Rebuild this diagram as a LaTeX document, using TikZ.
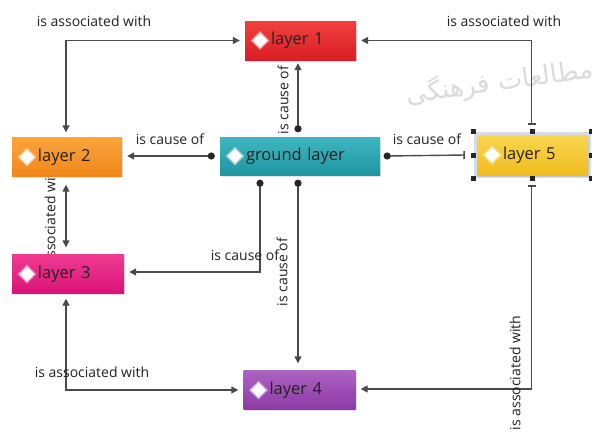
\documentclass[tikz,border=0pt]{standalone}
\usepackage{fontspec}
\setmainfont{Open Sans}
\newfontfamily\arabicfont[Script=Arabic]{DejaVu Sans}
\TeXXeTstate=1
\usetikzlibrary{arrows.meta,shadows,fit,calc}
\pgfdeclarelayer{back}
\pgfdeclarelayer{paper}
\pgfsetlayers{paper,back,main}

\definecolor{lncol}{HTML}{4A4A4A}
\definecolor{txt}{HTML}{222222}
\definecolor{redA}{HTML}{F2403F}\definecolor{redB}{HTML}{D81E24}
\definecolor{orA}{HTML}{FAA43E}\definecolor{orB}{HTML}{F2861A}
\definecolor{tlA}{HTML}{40B6BF}\definecolor{tlB}{HTML}{1E97A3}
\definecolor{ylA}{HTML}{F9D650}\definecolor{ylB}{HTML}{F1BC1E}
\definecolor{pkA}{HTML}{F03A90}\definecolor{pkB}{HTML}{D91478}
\definecolor{puA}{HTML}{AD62C4}\definecolor{puB}{HTML}{8C3AA4}
\definecolor{selfr}{HTML}{D3DEE9}

\begin{document}
\begin{tikzpicture}[x=1pt,y=-1pt,
  every node/.style={text=txt},
  lbl/.style={font=\fontsize{14}{16}\selectfont, inner sep=0pt},
  layerbox/.style={rectangle, minimum height=39pt, text width=111pt,
    inner xsep=0pt, align=left, execute at begin node=\hspace*{26pt},
    font=\fontsize{16.5}{18}\selectfont,
    drop shadow={opacity=0.22, shadow xshift=1.2pt, shadow yshift=-1.6pt},
    path picture={
      \coordinate (dm) at ([xshift=15pt]path picture bounding box.west);
      \fill[white,opacity=0.45] ([xshift=-9.5pt]dm) -- ([yshift=9.5pt]dm)
        -- ([xshift=9.5pt]dm) -- ([yshift=-9.5pt]dm) -- cycle;
      \fill[white] ([xshift=-7.5pt]dm) -- ([yshift=7.5pt]dm)
        -- ([xshift=7.5pt]dm) -- ([yshift=-7.5pt]dm) -- cycle;
    }},
  conn/.style={draw=lncol, line width=1.4pt},
  tip/.style={-{Triangle[length=7pt,width=7pt]}, shorten >=5pt},
  tips/.style={{Triangle[length=7pt,width=7pt]}-{Triangle[length=7pt,width=7pt]},
    shorten >=5pt, shorten <=5pt},
  bartip/.style={{Bar[width=8pt,line width=1.4pt]}-{Triangle[length=7pt,width=7pt]},
    shorten >=5pt},
  handle/.style={fill=black!85, minimum size=5pt, inner sep=0pt},
  dot/.style={fill=black!85}
]
\useasboundingbox (0,0) rectangle (592,434);
\begin{pgfonlayer}{paper}
  \fill[white] (0,0) rectangle (592,434);
  % faint background lettering
  \node[text=black!14, rotate=8, font=\arabicfont\fontsize{26}{30}\selectfont] (wm)
    at (500,82) {\beginR مطالعات فرهنگی\endR};
\end{pgfonlayer}

% layer boxes
\node[layerbox, top color=redA, bottom color=redB] (l1) at (300.5,40.5) {layer 1};
\node[layerbox, text width=110pt, top color=orA, bottom color=orB] (l2) at (67,157) {layer 2};
\node[layerbox, text width=160pt, minimum height=38pt, top color=tlA, bottom color=tlB] (g) at (300,156) {ground layer};
\node[layerbox, text width=112pt, top color=pkA, bottom color=pkB] (l3) at (68,274) {layer 3};
\node[layerbox, text width=112pt, top color=puA, bottom color=puB] (l4) at (299.5,390) {layer 4};

% selected element with its frame and handles
\node[layerbox, minimum height=40pt, top color=ylA, bottom color=ylB] (l5) at (532.5,155) {layer 5};
\begin{pgfonlayer}{back}
  \node[fill=selfr, inner sep=3pt, fit=(l5)] (sel) {};
\end{pgfonlayer}
\foreach \a in {north west,north,north east,west,east,south west,south,south east}
  \node[handle] at (sel.\a) {};

\begin{pgfonlayer}{back}
  % end points of the links
  \coordinate (gN) at ([xshift=-2pt,yshift=8pt]g.north);
  \coordinate (gW) at ([xshift=-8.5pt]g.west);
  \coordinate (gE) at ([xshift=7pt]g.east);
  \coordinate (gS1) at ([xshift=-40pt,yshift=-8pt]g.south);
  \coordinate (gS2) at ([xshift=-2pt,yshift=-8pt]g.south);
  \coordinate (l5W) at ([xshift=-12pt]l5.west);
  \coordinate (l5N) at ([xshift=-1pt,yshift=10pt]l5.north);
  \coordinate (l5S) at ([xshift=-1pt,yshift=-10pt]l5.south);

  % association links
  \draw[conn,tips] ([xshift=-1pt]l2.north) |- (l1.west);
  \draw[conn,bartip] (l5N) |- (l1.east);
  \draw[conn,tips, shorten <=8pt, shorten >=7pt] ([xshift=-1pt]l2.south) -- ([xshift=-1pt]l2.south |- l3.north);
  \draw[conn,tips] ([xshift=-2pt]l3.south) |- (l4.west);
  \draw[conn,bartip] (l5S) |- ([yshift=1pt]l4.east);

  % cause links
  \draw[conn,tip, shorten >=3pt] (gN) -- (gN |- l1.south);
  \draw[conn,tip] (gW) -- (gW -| l2.east);
  \draw[conn,-{Bar[width=8pt,line width=1.4pt]}] (gE) -- (l5W);
  \draw[conn,tip] (gS1) |- ([yshift=2pt]l3.east);
  \draw[conn,tip, shorten >=7pt] (gS2) -- (gS2 |- l4.north);
  \foreach \p in {gN,gW,gE,gS1,gS2} \fill[dot] (\p) circle (3.6pt);

  % link labels
  \node[lbl] (t1) at (94,21) {is associated with};
  \node[lbl] (t2) at (504,21) {is associated with};
  \node[lbl, rotate=90] (t3) at (283,100) {is cause of};
  \node[lbl] (t4) at (170,139) {is cause of};
  \node[lbl] (t5) at (427,139) {is cause of};
  \node[lbl] (t6) at (245,255) {is cause of};
  \node[lbl, rotate=90] (t7) at (282,272) {is cause of};
  \node[lbl, rotate=90] (t8) at (50,222) {is associated with};
  \node[lbl] (t9) at (92,372) {is associated with};
  \node[lbl, rotate=90] (t10) at (515,373) {is associated with};
\end{pgfonlayer}
\end{tikzpicture}
\end{document}
